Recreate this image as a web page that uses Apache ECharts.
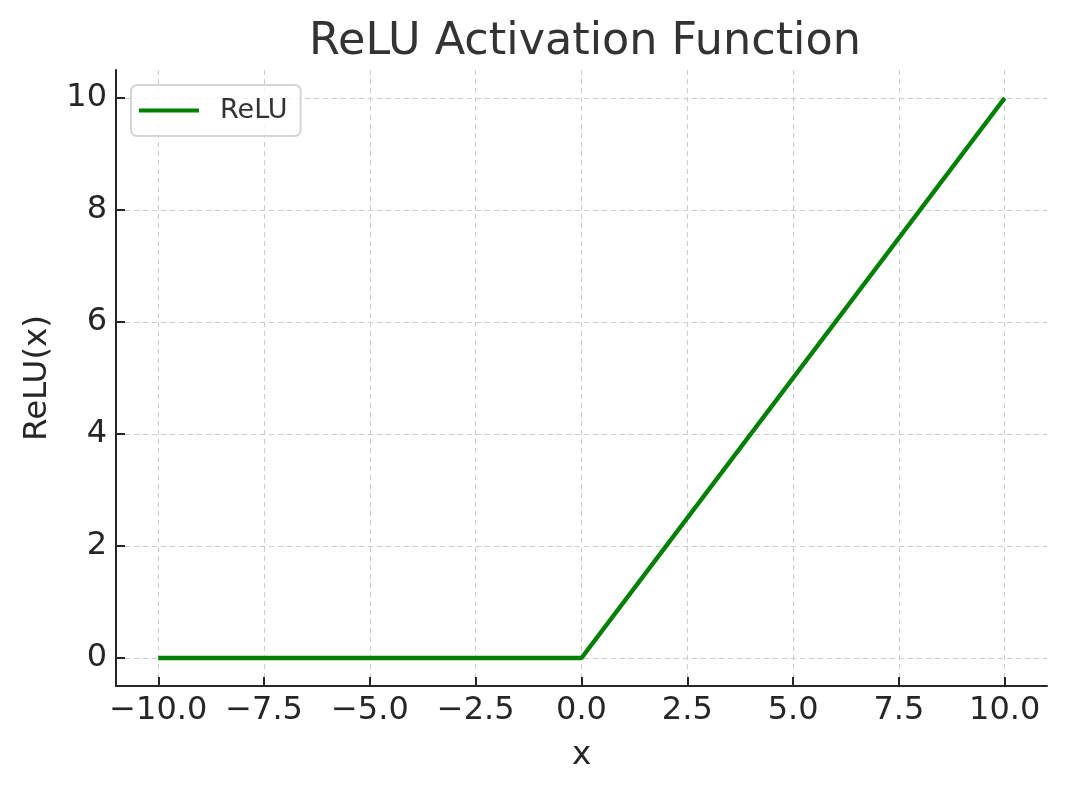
<!DOCTYPE html>
<html>
<head>
<meta charset="utf-8">
<script src="https://cdn.jsdelivr.net/npm/echarts@6/dist/echarts.min.js"></script>
<style>
html,body{margin:0;padding:0;background:#fff;}
#chart{width:1066px;height:793px;}
</style>
</head>
<body>
<div id="chart"></div>
<script>
// Data
const xValues = [-10, 0, 10];
const reluValues = [0, 0, 10];
const xTicks = [-10, -7.5, -5, -2.5, 0, 2.5, 5, 7.5, 10];
const yTicks = [0, 2, 4, 6, 8, 10];
const seriesName = 'ReLU';

const FONT = 'DejaVu Sans';
const chart = echarts.init(document.getElementById('chart'), null, {renderer: 'canvas'});

const axisCommon = {
  axisLine: {show: true, onZero: false, lineStyle: {color: '#262626', width: 2}},
  axisTick: {show: true, inside: true, length: 9, lineStyle: {color: '#262626', width: 2}},
  splitLine: {show: true, lineStyle: {color: '#cccccc', width: 1, type: [5, 4]}},
  nameTextStyle: {fontFamily: FONT, fontSize: 32.5, color: '#262626'}
};

chart.setOption({
  backgroundColor: '#ffffff',
  animation: false,
  title: {
    text: 'ReLU Activation Function',
    left: 580,
    top: 15,
    textAlign: 'center',
    textStyle: {fontFamily: FONT, fontSize: 44.5, fontWeight: 'normal', color: '#333333'}
  },
  grid: {left: 116, right: 19, top: 70, bottom: 107, containLabel: false},
  legend: {
    data: [{name: seriesName, icon: 'rect'}],
    left: 131, top: 85,
    orient: 'vertical',
    itemWidth: 60, itemHeight: 4,
    padding: [12, 13, 12, 8],
    backgroundColor: 'rgba(255,255,255,0.8)',
    borderColor: '#d5d5d5', borderWidth: 2, borderRadius: 6,
    textStyle: {fontFamily: FONT, fontSize: 27, color: '#333333', padding: [0, 0, 0, 16], lineHeight: 24}
  },
  xAxis: Object.assign({}, axisCommon, {
    type: 'value', min: -11, max: 11,
    name: 'x', nameLocation: 'middle', nameGap: 53,
    axisTick: Object.assign({}, axisCommon.axisTick, {customValues: xTicks}),
    axisLabel: {customValues: xTicks, margin: 9, fontFamily: FONT, fontSize: 32, color: '#262626',
      formatter: v => (v < 0 ? '\u2212' : '') + Math.abs(v).toFixed(1)}
  }),
  yAxis: Object.assign({}, axisCommon, {
    type: 'value', min: -0.5, max: 10.5,
    name: 'ReLU(x)', nameLocation: 'middle', nameGap: 62, nameRotate: 90,
    axisTick: Object.assign({}, axisCommon.axisTick, {customValues: yTicks}),
    axisLabel: {customValues: yTicks, margin: 9, fontFamily: FONT, fontSize: 32, color: '#262626',
      formatter: v => String(v)}
  }),
  series: [{
    name: seriesName,
    type: 'line',
    data: xValues.map((x, i) => [x, reluValues[i]]),
    showSymbol: false,
    symbol: 'none',
    lineStyle: {color: '#008000', width: 4.5},
    itemStyle: {color: '#008000'}
  }]
});
</script>
</body>
</html>
